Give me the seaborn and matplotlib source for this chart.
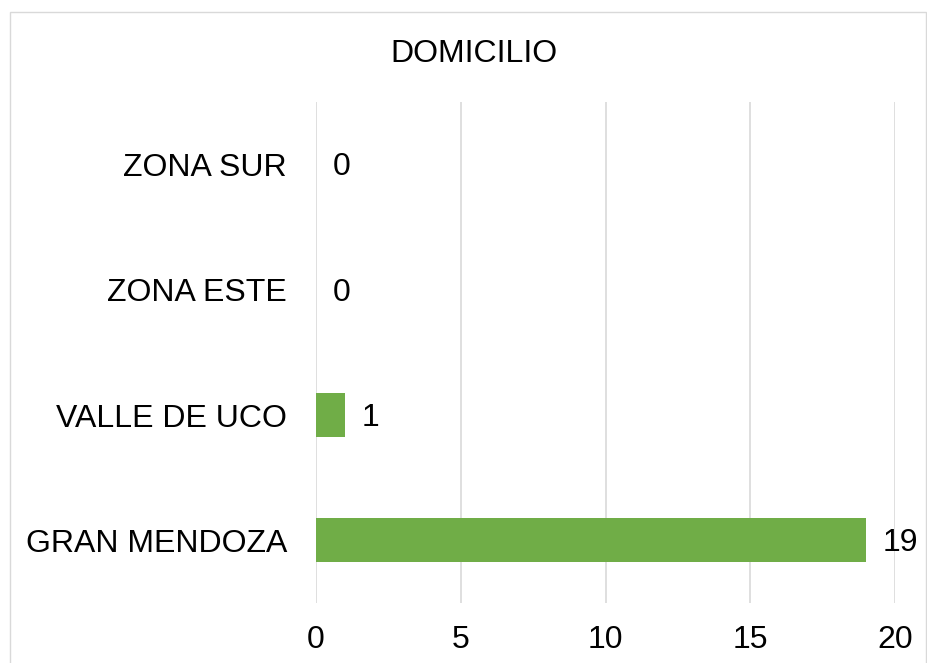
import matplotlib
matplotlib.use("Agg")
import matplotlib.pyplot as plt
import seaborn as sns
import pandas as pd
from matplotlib.patches import Rectangle

# data
zonas = ["ZONA SUR", "ZONA ESTE", "VALLE DE UCO", "GRAN MENDOZA"]
cantidad = [0, 0, 1, 19]
titulo = "DOMICILIO"

sns.set_style("white")
plt.rcParams['font.family'] = ['Liberation Sans', 'DejaVu Sans']
FS = 23

df = pd.DataFrame({"zona": zonas, "cantidad": cantidad})

fig = plt.figure(figsize=(9.27, 6.63), dpi=100)
ax = fig.add_axes([0.341, 0.0905, 0.6245, 0.7557])

sns.barplot(data=df, x="cantidad", y="zona", order=zonas, color="#70AD47",
            width=0.35, saturation=1, linewidth=0, ax=ax)

ax.set_xlim(0, 20)
ax.set_xticks([0, 5, 10, 15, 20])
ax.xaxis.grid(True, color="#D9D9D9", linewidth=1.2)
ax.set_axisbelow(True)
for s in ax.spines.values():
    s.set_visible(False)
ax.set_xlabel("")
ax.set_ylabel("")
ax.tick_params(axis="x", length=0, pad=15.5, labelsize=FS, colors="black")
ax.tick_params(axis="y", length=0, pad=21, labelsize=FS, colors="black")

# value labels next to each bar
for i, v in enumerate(cantidad):
    ax.annotate(str(v), xy=(v, i), xytext=(12, -2), textcoords="offset points",
                ha="left", va="center", fontsize=FS, color="black")

fig.text(0.511, 0.919, titulo, ha="center", va="center", fontsize=FS, color="black")

# chart border
fig.patches.append(Rectangle((10 / 927, -0.05), 916 / 927, 1 - 12 / 663 + 0.05,
                             transform=fig.transFigure, fill=False,
                             edgecolor="#D9D9D9", linewidth=1))

fig.savefig("out.png", dpi=100)
